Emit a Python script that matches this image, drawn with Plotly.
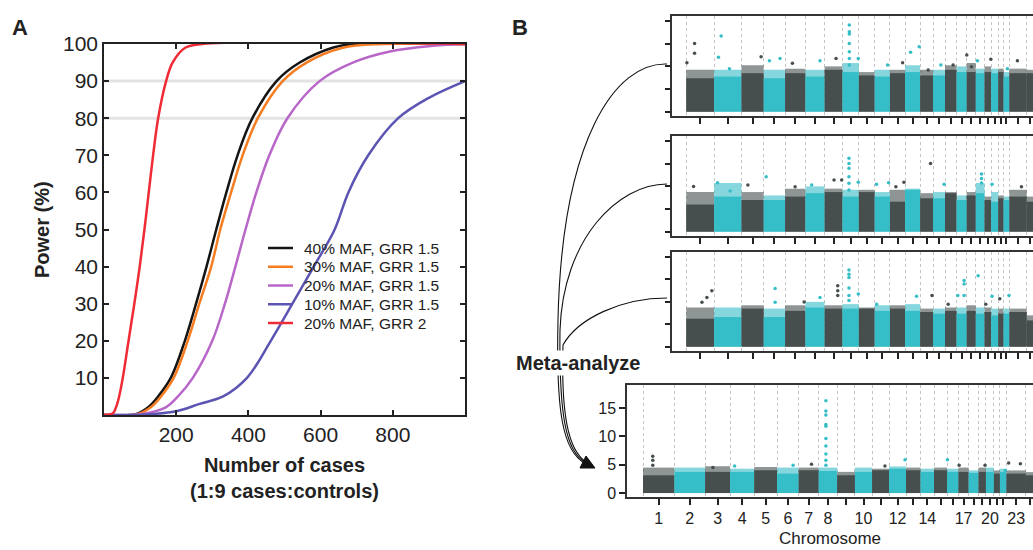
import numpy as np
import plotly.graph_objects as go

W, H = 1033, 550
FONT = "Liberation Sans, Arial, Helvetica, sans-serif"
DARK = "#464e4e"
CYAN = "#35bec8"

# ---------------- Panel A: power curves ----------------
cases_40 = [0, 90, 125, 150, 185, 224, 255, 284, 311, 339, 370, 411, 478, 542, 633, 690, 1000]
power_40 = [0, 0.3, 2.3, 5, 10, 20, 30, 40, 50, 60, 70, 80, 90, 95, 99, 100, 100]
cases_30 = [0, 95, 132, 158, 193, 232, 264, 297, 322, 352, 384, 426, 495, 561, 661, 772, 1000]
power_30 = [0, 0.3, 2.3, 5, 10, 20, 30, 40, 50, 60, 70, 80, 90, 95, 99, 100, 100]
cases_20 = [0, 105, 170, 205, 246, 300, 335, 364, 392, 422, 458, 508, 597, 689, 792, 911, 1000]
power_20 = [0, 0.3, 2, 5, 10, 20, 30, 40, 50, 60, 70, 80, 90, 95, 98, 99.5, 100]
cases_10 = [0, 110, 200, 265, 330, 396, 462, 522, 581, 639, 677, 732, 815, 900, 1000]
power_10 = [0, 0.1, 1, 3, 5, 10, 20, 30, 40, 50, 60, 70, 80, 85.5, 90]
cases_grr2 = [0, 25, 33, 42, 52, 68, 84, 99, 112, 124, 136, 150, 172, 190, 225, 272, 1000]
power_grr2 = [0, 0.5, 2, 5, 10, 20, 30, 40, 50, 60, 70, 80, 90, 95, 99, 100, 100]

# ---------------- Panel B: Manhattan plots ----------------
chrom_len_mb = [249, 243, 198, 191, 181, 171, 159, 146, 141, 136, 135, 134,
                115, 107, 103, 90, 81, 78, 59, 63, 48, 51, 155, 59]
chrom_labels = ["1", "2", "3", "4", "5", "6", "7", "8", "", "10", "", "12",
                "", "14", "", "", "17", "", "", "20", "", "", "23", ""]

# dense band top / scattered fringe top (-log10 p) per chromosome, per study
dense_1 = [2.95, 3.1, 3.4, 2.95, 3.4, 3.1, 3.7, 3.5, 3.2, 3.1, 3.4, 3.5,
           3.2, 3.2, 3.7, 3.5, 3.5, 3.4, 3.5, 3.4, 3.5, 3.1, 3.4, 3.4]
fringe_1 = [3.7, 3.7, 4.1, 3.7, 3.8, 3.7, 4.0, 4.3, 3.5, 3.7, 3.7, 4.1,
            3.7, 3.7, 4.1, 4.0, 4.3, 3.8, 4.0, 3.8, 3.8, 3.5, 3.8, 3.7]
dense_2 = [2.4, 3.1, 2.8, 2.8, 3.1, 3.4, 3.5, 3.1, 3.5, 3.1, 2.65, 3.7,
           2.95, 2.95, 3.4, 2.8, 3.2, 3.4, 2.8, 2.65, 2.95, 2.8, 3.1, 2.65]
fringe_2 = [3.5, 4.3, 3.5, 3.2, 3.8, 4.0, 3.8, 3.7, 3.7, 3.5, 3.7, 3.8,
            3.4, 3.5, 3.5, 3.2, 3.5, 4.3, 3.1, 3.5, 3.2, 3.1, 3.7, 3.1]
dense_3 = [2.5, 2.65, 3.4, 2.65, 3.2, 3.5, 3.4, 3.4, 3.4, 3.2, 3.4, 3.2,
           3.1, 2.95, 3.2, 2.95, 3.2, 2.95, 3.1, 2.8, 2.95, 2.95, 3.1, 2.35]
fringe_3 = [3.5, 3.5, 3.7, 3.4, 3.7, 4.0, 3.7, 3.8, 3.5, 3.7, 3.7, 3.8,
            3.4, 3.4, 3.5, 3.5, 3.7, 3.5, 3.5, 3.4, 3.4, 3.4, 3.4, 2.8]
dense_meta = [3.14, 3.74, 3.74, 3.74, 4.03, 3.44, 4.03, 3.9, 3.14, 3.74, 4.03, 4.3,
              4.03, 3.74, 4.03, 3.74, 3.74, 3.56, 3.74, 3.74, 3.44, 3.74, 3.44, 3.14]
fringe_meta = [4.5, 4.5, 4.74, 4.3, 4.6, 4.5, 4.5, 4.5, 3.74, 4.5, 4.3, 4.7,
               4.5, 4.3, 4.5, 4.3, 4.5, 4.0, 4.5, 4.5, 4.0, 4.3, 4.0, 3.7]

# isolated SNPs above the bands: cumulative position (Mb) and -log10 p
hits_pos_1 = [74, 74, 6, 311, 287, 385, 667, 741, 836, 946, 1192, 1335,
              1453, 1453, 1453, 1453, 1453, 1453, 1453, 1533, 1794, 1928, 1999,
              2076, 2156, 2269, 2378, 2500, 2542, 2595, 2714, 2862, 2951]
hits_p_1 = [6.03, 5.15, 4.33, 6.68, 4.8, 3.8, 4.86, 4.5, 4.7, 4.27, 4.5, 4.7,
            7.65, 7.06, 6.85, 6.03, 5.3, 4.7, 4.12, 4.7, 4.12, 4.33, 5.24,
            5.74, 3.68, 4.12, 4.12, 5.0, 3.97, 4.5, 4.62, 3.8, 4.5]
hits_pos_2 = [65, 279, 391, 549, 712, 970, 1118, 1317, 1385, 1450, 1450, 1450,
              1450, 1450, 1450, 1533, 1696, 1803, 1868, 1940, 2177, 2298, 2631,
              2631, 2631, 2725, 2987]
hits_p_2 = [4.0, 4.33, 3.6, 4.12, 4.86, 3.97, 4.12, 4.56, 4.56, 6.48, 6.03, 5.6,
            4.86, 4.27, 3.68, 4.36, 4.18, 4.33, 3.97, 4.36, 6.03, 4.18, 5.1,
            4.7, 4.3, 4.18, 3.97]
hits_pos_3 = [140, 184, 228, 792, 792, 1050, 1192, 1350, 1350, 1350, 1450, 1450,
              1450, 1450, 1450, 1450, 1533, 1697, 2052, 2190, 2334, 2420, 2476,
              2476, 2476, 2601, 2669, 2725, 2794, 2876]
hits_p_3 = [3.97, 4.4, 5.0, 5.2, 3.97, 4.0, 4.4, 5.44, 5.0, 4.56, 6.85, 6.46,
            6.17, 5.23, 4.56, 4.12, 4.7, 3.8, 4.5, 4.56, 3.8, 4.56, 5.9,
            5.6, 4.56, 6.33, 3.8, 4.5, 4.27, 4.56]
hits_pos_meta = [77, 77, 77, 554, 726, 1189, 1335, 1449, 1449, 1449, 1449, 1449,
                 1449, 1449, 1449, 1449, 1449, 1917, 2076, 2412, 2505, 2710,
                 2870, 2897, 2990]
hits_p_meta = [6.52, 5.8, 4.9, 4.5, 4.8, 4.9, 5.1, 16.3, 14.5, 13.8, 12.1, 11.8,
               9.65, 8.3, 6.9, 5.8, 4.9, 4.8, 5.9, 5.9, 4.9, 4.9, 4.0, 5.3, 5.2]

# chromosome geometry
starts = np.concatenate([[0], np.cumsum(chrom_len_mb)[:-1]])
centers = starts + np.array(chrom_len_mb) / 2
chrom_num = np.arange(1, len(chrom_len_mb) + 1)
band_colors = [CYAN if (c % 2 == 0 and c < 23) else DARK for c in chrom_num]


def hit_colors(pos):
    idx = np.searchsorted(starts, pos, side="right") - 1
    return [band_colors[i] for i in idx]


def px(x):
    return x / W


def py(y):
    return 1 - y / H


fig = go.Figure()

curves = [
    (cases_40, power_40, "40% MAF, GRR 1.5", "#141414"),
    (cases_30, power_30, "30% MAF, GRR 1.5", "#f47d22"),
    (cases_20, power_20, "20% MAF, GRR 1.5", "#b866c8"),
    (cases_10, power_10, "10% MAF, GRR 1.5", "#5b54b3"),
    (cases_grr2, power_grr2, "20% MAF, GRR 2", "#ef2b36"),
]
for xs, ys, name, col in curves:
    fig.add_trace(go.Scatter(x=xs, y=ys, name=name, mode="lines", showlegend=False,
                             line=dict(color=col, width=2.5, shape="spline", smoothing=1.0),
                             xaxis="x", yaxis="y"))

panels = [
    (dense_1, fringe_1, hits_pos_1, hits_p_1, "2"),
    (dense_2, fringe_2, hits_pos_2, hits_p_2, "3"),
    (dense_3, fringe_3, hits_pos_3, hits_p_3, "4"),
    (dense_meta, fringe_meta, hits_pos_meta, hits_p_meta, "5"),
]
for dense, fringe, hpos, hp, k in panels:
    fig.add_trace(go.Bar(x=centers, y=fringe, width=chrom_len_mb, marker_color=band_colors,
                         marker_line_width=0, opacity=0.6, showlegend=False,
                         xaxis="x" + k, yaxis="y" + k))
    fig.add_trace(go.Bar(x=centers, y=dense, width=chrom_len_mb, marker_color=band_colors,
                         marker_line_width=0, showlegend=False,
                         xaxis="x" + k, yaxis="y" + k))
    fig.add_trace(go.Scatter(x=hpos, y=hp, mode="markers", showlegend=False,
                             marker=dict(color=hit_colors(hpos), size=3.5, line_width=0),
                             xaxis="x" + k, yaxis="y" + k))

layout = dict(
    width=W, height=H, margin=dict(l=0, r=0, t=0, b=0, autoexpand=False),
    paper_bgcolor="white", plot_bgcolor="white",
    font=dict(family=FONT, color="#222"),
    barmode="overlay", showlegend=False,
    xaxis=dict(domain=[px(104), px(465)], range=[0, 1000], tickvals=[200, 400, 600, 800],
               ticks="inside", ticklen=5, tickwidth=1.5, tickcolor="#222",
               showline=True, linecolor="#222", linewidth=1.5, mirror="ticks",
               showgrid=False, zeroline=False, tickfont=dict(size=21)),
    yaxis=dict(domain=[py(415), py(44)], range=[0, 100],
               tickvals=[10, 20, 30, 40, 50, 60, 70, 80, 90, 100],
               ticks="inside", ticklen=5, tickwidth=1.5, tickcolor="#222",
               showline=True, linecolor="#222", linewidth=1.5, mirror="ticks",
               showgrid=False, zeroline=False, tickfont=dict(size=21)),
)

b_domains = {"2": (16, 116), "3": (136, 236), "4": (252, 351), "5": (385, 497)}
for k, (top, bot) in b_domains.items():
    meta = k == "5"
    left = 627 if meta else 672
    layout["xaxis" + k] = dict(
        domain=[px(left), 1], range=[-127, 3090], anchor="y" + k,
        tickvals=centers, ticktext=chrom_labels if meta else [""] * len(centers),
        showticklabels=meta, ticks="outside", ticklen=6, tickwidth=1.5, tickcolor="#222",
        showline=True, linecolor="#333", linewidth=1.5, mirror=True,
        showgrid=False, zeroline=False, tickfont=dict(size=16),
        minor=dict(tickvals=list(starts) + [float(np.sum(chrom_len_mb))], ticks="",
                   showgrid=True, gridcolor="#c4c4c4", griddash="dot", gridwidth=1))
    layout["yaxis" + k] = dict(
        domain=[py(bot), py(top)], anchor="x" + k,
        range=[-0.7, 19.1] if meta else [-0.38, 8.45],
        tickvals=[0, 5, 10, 15] if meta else [0, 2, 4, 6, 8],
        showticklabels=meta, ticks="outside", ticklen=6 if meta else 5,
        tickwidth=1.5, tickcolor="#222",
        showline=True, linecolor="#333", linewidth=1.5, mirror=False,
        showgrid=False, zeroline=False, tickfont=dict(size=16))

fig.update_layout(**layout)

# light reference lines at 80 % and 90 % power
for lvl in [80, 90]:
    fig.add_shape(type="line", xref="x", yref="y", x0=0, x1=1000, y0=lvl, y1=lvl,
                  line=dict(color="#e3e3e3", width=3), layer="below")

# legend drawn by hand so the rows sit as close as in the original
for i, (xs, ys, name, col) in enumerate(curves):
    yy = 248 + 18.75 * i
    fig.add_shape(type="line", xref="paper", yref="paper", x0=px(268), x1=px(293),
                  y0=py(yy), y1=py(yy), line=dict(color=col, width=2.5))
    fig.add_annotation(text=name, xref="paper", yref="paper", x=px(302), y=py(yy),
                       xanchor="left", yanchor="middle", showarrow=False,
                       font=dict(size=15.5, color="#222"))


def path(points):
    return " ".join(f"{c} {px(x):.5f},{py(y):.5f}" for c, x, y in points)


arrow_curves = [
    [("M", 667, 64), ("C", 615, 62), ("", 562, 140), ("", 558, 320),
     ("C", 556, 410), ("", 562, 452), ("", 586, 464)],
    [("M", 667, 184), ("C", 617, 184), ("", 563, 240), ("", 560, 330),
     ("C", 559, 412), ("", 565, 452), ("", 586, 463)],
    [("M", 667, 298), ("C", 622, 298), ("", 578, 318), ("", 563, 345),
     ("C", 561, 414), ("", 568, 450), ("", 586, 462)],
]
for pts in arrow_curves:
    fig.add_shape(type="path", xref="paper", yref="paper", path=path(pts),
                  line=dict(color="#111", width=1.1), layer="above")
fig.add_shape(type="path", xref="paper", yref="paper",
              path=path([("M", 580, 468), ("L", 595, 468), ("L", 586, 456)]) + " Z",
              fillcolor="#111", line=dict(color="#111", width=1), layer="above")

annotations = [
    dict(text="<b>A</b>", x=px(20), y=py(28), font=dict(size=22)),
    dict(text="<b>B</b>", x=px(520), y=py(28), font=dict(size=22)),
    dict(text="<b>Power (%)</b>", x=px(42), y=py(230), textangle=-90, font=dict(size=20)),
    dict(text="<b>Number of cases</b><br><b>(1:9 cases:controls)</b>",
         x=px(284), y=py(478), font=dict(size=20)),
    dict(text="<b>Meta-analyze</b>", x=px(578), y=py(363), font=dict(size=20),
         bgcolor="white"),
    dict(text="Chromosome", x=px(830), y=py(538), font=dict(size=17)),
]
for a in annotations:
    fig.add_annotation(xref="paper", yref="paper", showarrow=False,
                       xanchor="center", yanchor="middle", **a)

fig.write_html("out.html", config={"displayModeBar": False},
               post_script="document.body.style.margin='0';document.body.style.overflow='hidden';")
